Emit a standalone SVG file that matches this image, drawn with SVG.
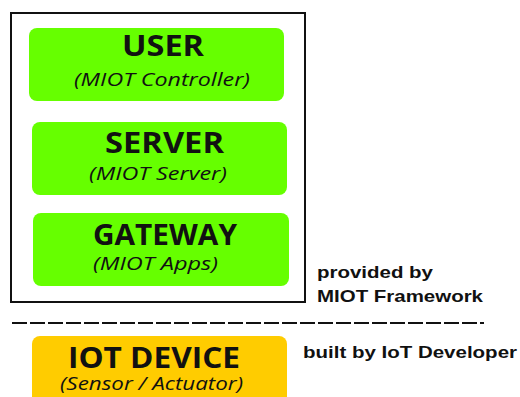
<svg xmlns="http://www.w3.org/2000/svg" width="520" height="397" viewBox="0 0 520 397">
  <style>
    .layer { fill: #66ff00; }
    .device { fill: #ffcc00; }
    .title { font-family: "Open Sans", "Noto Sans", sans-serif; font-weight: bold; font-size: 28px; fill: #111; }
    .sub { font-family: "Open Sans", "Noto Sans", sans-serif; font-style: italic; font-size: 19px; fill: #111; }
    .note { font-family: "Liberation Sans", Arial, sans-serif; font-weight: bold; font-size: 16.5px; fill: #111; }
  </style>
  <rect width="520" height="397" fill="#ffffff"/>

  <!-- framework boundary -->
  <g id="framework">
    <rect x="11" y="13" width="294" height="289" fill="none" stroke="#111" stroke-width="2"/>
  </g>

  <g id="user">
    <rect class="layer" x="29" y="28" width="255" height="73" rx="8"/>
    <text class="title" x="122" y="56" textLength="82" lengthAdjust="spacingAndGlyphs">USER</text>
    <text class="sub" x="74" y="86" textLength="176" lengthAdjust="spacingAndGlyphs">(MIOT Controller)</text>
  </g>

  <g id="server">
    <rect class="layer" x="32" y="122" width="255" height="73" rx="8"/>
    <text class="title" x="105" y="153" textLength="119" lengthAdjust="spacingAndGlyphs">SERVER</text>
    <text class="sub" x="89" y="180" textLength="138" lengthAdjust="spacingAndGlyphs">(MIOT Server)</text>
  </g>

  <g id="gateway">
    <rect class="layer" x="33" y="213" width="256" height="73" rx="8"/>
    <text class="title" x="93" y="245" textLength="144" lengthAdjust="spacingAndGlyphs">GATEWAY</text>
    <text class="sub" x="93" y="270" textLength="125" lengthAdjust="spacingAndGlyphs">(MIOT Apps)</text>
  </g>

  <g id="framework-note">
    <text class="note" x="317" y="278" textLength="116" lengthAdjust="spacingAndGlyphs">provided by</text>
    <text class="note" x="317" y="302" textLength="166" lengthAdjust="spacingAndGlyphs">MIOT Framework</text>
  </g>

  <!-- separator -->
  <g id="connectors">
    <line x1="12" y1="323" x2="484" y2="323" stroke="#111" stroke-width="2" stroke-dasharray="15 3"/>
  </g>

  <g id="iot-device">
    <rect class="device" x="32" y="336" width="255" height="75" rx="8"/>
    <text class="title" x="68" y="368" textLength="172" lengthAdjust="spacingAndGlyphs">IOT DEVICE</text>
    <text class="sub" x="60" y="390" textLength="183" lengthAdjust="spacingAndGlyphs">(Sensor / Actuator)</text>
  </g>

  <g id="developer-note">
    <text class="note" x="303" y="358" textLength="214" lengthAdjust="spacingAndGlyphs">built by IoT Developer</text>
  </g>
</svg>
